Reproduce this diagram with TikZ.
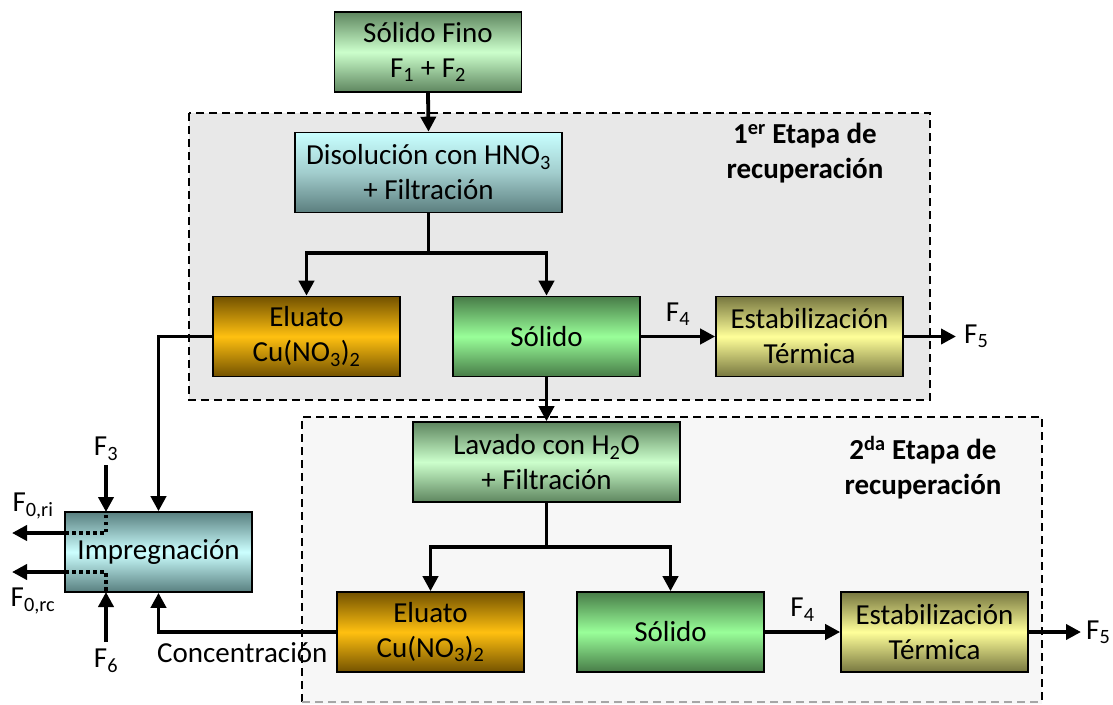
\documentclass[tikz,border=0pt]{standalone}
\usepackage{fontspec}
\setmainfont{Carlito}
\usetikzlibrary{arrows.meta}

% stage backgrounds
\definecolor{stageA}{HTML}{E8E8E8}
\definecolor{stageB}{HTML}{F7F7F7}
% process box gradients
\definecolor{feedEdge}{HTML}{5E865F}
\definecolor{feedMid}{HTML}{CCFFCC}
\definecolor{washTop}{HTML}{C8FFFF}
\definecolor{washMid}{HTML}{A2CDCD}
\definecolor{washBot}{HTML}{5B7E7E}
\definecolor{eluEdge}{HTML}{735200}
\definecolor{eluMid}{HTML}{FFC010}
\definecolor{solEdge}{HTML}{487C48}
\definecolor{solMid}{HTML}{99FF99}
\definecolor{estEdge}{HTML}{777740}
\definecolor{estMid}{HTML}{FFFF99}
\definecolor{impEdge}{HTML}{587F7F}
\definecolor{impMid}{HTML}{CCFFFF}

\begin{document}
\begin{tikzpicture}[x=1pt,y=-1pt,
  box/.style={draw=black, line width=1.6pt, align=center, inner sep=0pt,
    minimum width=187pt, minimum height=80pt, font=\fontsize{29}{35}\selectfont},
  widebox/.style={box, minimum width=267pt},
  feed/.style={top color=feedEdge, bottom color=feedEdge, middle color=feedMid},
  wash/.style={top color=washTop, bottom color=washBot, middle color=washMid},
  eluate/.style={top color=eluEdge, bottom color=eluEdge, middle color=eluMid},
  solid/.style={top color=solEdge, bottom color=solEdge, middle color=solMid},
  stab/.style={top color=estEdge, bottom color=estEdge, middle color=estMid},
  impr/.style={top color=impEdge, bottom color=impEdge, middle color=impMid},
  pipe/.style={line width=3.8pt},
  flow/.style={pipe, -{Triangle[length=15pt,width=15pt]}},
  tap/.style={line width=3.4pt, dash pattern=on 3.5pt off 3.5pt},
  lbl/.style={font=\fontsize{29}{35}\selectfont, inner sep=0pt},
  stagebox/.style={line width=1.4pt, dash pattern=on 8pt off 5pt},
  title/.style={font=\bfseries\fontsize{29}{35}\selectfont, align=center}
]
\useasboundingbox (0,0) rectangle (1113,704);

% recovery stages
\filldraw[stagebox, fill=stageA] (189,113) rectangle (930,400);
\fill[stageB] (302,417) rectangle (1042,704);
\draw[stagebox] (302,702) -- (302,417) -- (1042,417) -- (1042,702);
\draw[stagebox, draw=gray!70] (302,702) -- (1042,702);

\node[title] (t1) at (805,153) {1\textsuperscript{er} Etapa de\\recuperación};
\node[title] (t2) at (923,468) {2\textsuperscript{da} Etapa de\\recuperación};

% process units
\node[box, feed]  (fino) at (428,52)    {Sólido Fino\\F\textsubscript{1} + F\textsubscript{2}};
\node[widebox, wash] (dis) at (428.5,172.5) {Disolución con HNO\textsubscript{3}\\+ Filtración};
\node[box, eluate] (elu1) at (306.5,336.5) {Eluato\\Cu(NO\textsubscript{3})\textsubscript{2}};
\node[box, solid]  (sol1) at (546.5,336.5) {Sólido};
\node[box, stab]   (est1) at (809.5,336.5) {Estabilización\\Térmica};
\node[widebox, feed] (lav) at (546.5,462) {Lavado con H\textsubscript{2}O\\+ Filtración};
\node[box, eluate] (elu2) at (430.5,632) {Eluato\\Cu(NO\textsubscript{3})\textsubscript{2}};
\node[box, solid]  (sol2) at (670.5,632) {Sólido};
\node[box, stab]   (est2) at (934.5,632) {Estabilización\\Térmica};
\node[box, impr]   (imp)  at (158.5,552) {Impregnación};

% first stage streams
\coordinate (j1) at (428.5,253);
\draw[flow] (fino.south) -- (dis.north);
\draw[flow] (dis.south) -- (j1) -| (elu1.north);
\draw[flow] (j1) -| (sol1.north);
\draw[flow] (sol1.east) -- (est1.west)
  node[lbl, midway, above=9pt] (f4a) {F\textsubscript{4}};
\node[lbl, anchor=west] (f5a) at (964,336.5) {F\textsubscript{5}};
\draw[flow] (est1.east) -- ([xshift=-8pt]f5a.west);

% second stage streams
\coordinate (j2) at (546.5,547);
\draw[flow] (sol1.south) -- (lav.north);
\draw[flow] (lav.south) -- (j2) -| (elu2.north);
\draw[flow] (j2) -| (sol2.north);
\draw[flow] (sol2.east) -- (est2.west)
  node[lbl, midway, above=9pt] (f4b) {F\textsubscript{4}};
\node[lbl, anchor=west] (f5b) at (1086,632) {F\textsubscript{5}};
\draw[flow] (est2.east) -- ([xshift=-5pt]f5b.west);

% recycle to impregnation
\draw[flow] (elu1.west) -| (imp.north);
\draw[flow] (elu2.west) -| (imp.south);
\node[lbl, anchor=west] (conc) at (157,653) {Concentración};

% make-up and purge streams
\node[lbl] (f3) at (106,449) {F\textsubscript{3}};
\node[lbl] (f6) at (106,661) {F\textsubscript{6}};
\coordinate (top3) at (106,512);
\coordinate (bot6) at (106,592);
\draw[flow] ([yshift=-16pt]f3.center) -- (top3);
\draw[flow] ([yshift=19pt]f6.center) -- (bot6);

\coordinate (ri)    at (65,533);
\coordinate (rc)    at (65,572);
\coordinate (riend) at (12,533);
\coordinate (rcend) at (12,572);
\draw[flow] (ri) -- (riend);
\draw[flow] (rc) -- (rcend);
\node[lbl] (f0ri) at (33,506) {F\textsubscript{0,ri}};
\node[lbl] (f0rc) at (33,601) {F\textsubscript{0,rc}};

\draw[tap] (ri) -- (106,533) -- (top3);
\draw[tap] (rc) -- (106,572) -- (bot6);
\end{tikzpicture}
\end{document}
